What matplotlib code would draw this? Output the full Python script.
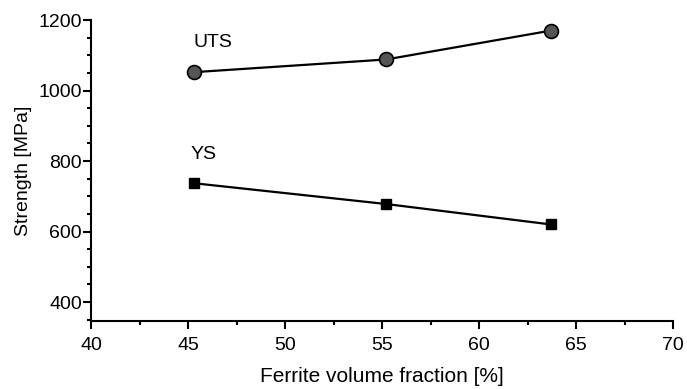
import numpy as np
import matplotlib.pyplot as plt
from matplotlib.ticker import MultipleLocator

plt.rcParams['font.family'] = ['Liberation Sans', 'DejaVu Sans']

# Ferrite volume fraction [%] and strengths [MPa]
ferrite = [45.3, 55.2, 63.7]
uts = [1052, 1088, 1170]
ys = [737, 678, 620]

fig = plt.figure(figsize=(6.87, 3.89), dpi=100)
ax = fig.add_axes([91 / 687, 1 - 320.7 / 389, (673.3 - 91) / 687, (320.7 - 20) / 389])

ax.plot(ferrite, uts, color='black', linewidth=1.6, marker='o', markersize=10,
        markerfacecolor='#555555', markeredgecolor='black', markeredgewidth=1.2)
ax.plot(ferrite, ys, color='black', linewidth=1.6, marker='s', markersize=7.5,
        markerfacecolor='black', markeredgecolor='black')

ax.text(45.3, 1136, 'UTS', fontsize=14, ha='left', va='center')
ax.text(45.15, 818, 'YS', fontsize=14, ha='left', va='center')

ax.set_xlim(40, 70)
ax.set_ylim(347, 1200)
ax.set_xticks([40, 45, 50, 55, 60, 65, 70])
ax.set_yticks([400, 600, 800, 1000, 1200])
ax.xaxis.set_minor_locator(MultipleLocator(2.5))
ax.yaxis.set_minor_locator(MultipleLocator(50))

for side in ('top', 'right'):
    ax.spines[side].set_visible(False)
for side in ('left', 'bottom'):
    ax.spines[side].set_linewidth(1.5)

ax.tick_params(which='major', direction='out', length=6, width=1.5, labelsize=14)
ax.tick_params(which='minor', direction='out', length=3, width=1.5)
ax.tick_params(axis='y', which='major', pad=0.5)
ax.tick_params(axis='x', which='major', pad=6)

ax.set_xlabel('Ferrite volume fraction [%]', fontsize=15, labelpad=9)
ax.set_ylabel('Strength [MPa]', fontsize=14, labelpad=5)

fig.savefig('out.png', dpi=100, facecolor='white')
